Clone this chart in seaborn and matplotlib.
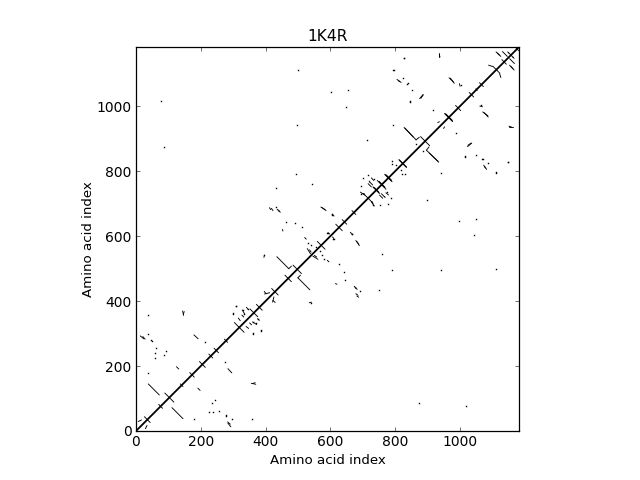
import numpy as np
import pandas as pd
import matplotlib
matplotlib.use("Agg")
import matplotlib.pyplot as plt
import seaborn as sns

title = "1K4R"
axis_label = "Amino acid index"
sequence_length = 1183
tick_values = [0, 200, 400, 600, 800, 1000]

# residue centres where a short anti-parallel contact crosses the diagonal
cross_center = [35, 76, 103, 141, 173, 205, 231, 248, 278, 319, 364, 381, 429, 498,
                572, 627, 644, 673, 717, 743, 760, 781, 824, 893, 967, 995, 1036,
                1067, 1113, 1137, 1158, 1177]
cross_half = [9, 6, 14, 4, 7, 9, 6, 7, 5, 15, 12, 9, 10, 13,
              12, 10, 7, 6, 13, 7, 9, 8, 10, 14, 10, 8, 7,
              6, 11, 7, 7, 5]

# contact strands, (residue a0, residue b0, residue a1, residue b1); the map is symmetric
strands = [
    (38, 145, 72, 111), (7, 29, 17, 34), (21, 291, 28, 283), (146, 360, 149, 368),
    (179, 296, 192, 284), (125, 198, 132, 191), (147, 356, 144, 370), (13, 293, 24, 284),
    (328, 373, 336, 360), (341, 381, 346, 375), (316, 348, 322, 340), (327, 357, 333, 351),
    (435, 537, 472, 500), (472, 500, 480, 508), (469, 471, 480, 460), (395, 535, 397, 542),
    (397, 422, 413, 426), (423, 402, 430, 396), (418, 686, 423, 679), (439, 679, 446, 674),
    (452, 621, 454, 616), (575, 688, 587, 679), (521, 596, 526, 591), (536, 558, 541, 551),
    (529, 562, 539, 546), (593, 611, 598, 607), (584, 682, 571, 690), (443, 678, 436, 683),
    (412, 688, 416, 682), (606, 668, 612, 662), (700, 732, 706, 730), (721, 768, 731, 758),
    (693, 736, 706, 727), (727, 752, 717, 762), (734, 772, 727, 780), (722, 767, 720, 770),
    (831, 933, 865, 897), (865, 897, 875, 905), (828, 935, 856, 906), (810, 1079, 819, 1074),
    (880, 1025, 887, 1035), (971, 1087, 983, 1071), (932, 950, 937, 953), (1001, 1062, 999, 1070),
    (967, 1088, 981, 1075), (936, 1152, 936, 1163), (876, 1024, 887, 1037), (806, 1083, 815, 1077),
    (1116, 1164, 1127, 1154), (1132, 1169, 1147, 1154), (1148, 1168, 1152, 1164),
    (1112, 1168, 1123, 1158), (1089, 1127, 1101, 1123), (937, 1159, 939, 1152),
    (955, 977, 978, 953), (733, 751, 752, 732), (750, 768, 772, 745), (770, 789, 791, 768),
    (813, 835, 836, 812), (1050, 1053, 1054, 1050),
]

# isolated contacts, (residue a, residue b)
dots = [
    (38, 298), (48, 277), (62, 257), (60, 239), (59, 226), (87, 234), (94, 245), (38, 357),
    (38, 178), (213, 275), (300, 360), (310, 385), (362, 301),
    (385, 309), (46, 279), (361, 335),
    (372, 332), (377, 345), (395, 541), (431, 691), (464, 645), (490, 642), (433, 750),
    (495, 792), (513, 628), (531, 580), (541, 573), (555, 568), (544, 761), (592, 611),
    (606, 666), (610, 591), (668, 606), (712, 898),
    (648, 998), (496, 943), (499, 1111), (794, 943), (794, 1111), (695, 755),
    (700, 779), (718, 789), (736, 776), (696, 731),
    (792, 822), (792, 832), (803, 820), (864, 885),
    (603, 1044), (654, 1051), (798, 1112), (829, 1148), (839, 1071), (851, 1049),
    (846, 1015), (1003, 1066), (918, 989), (845, 1017),
    (838, 1070), (825, 1086), (828, 1149), (77, 1018), (86, 874),
]

strand_rows = []
for k, (a0, b0, a1, b1) in enumerate(strands):
    strand_rows += [(f"s{k}", a0, b0), (f"s{k}", a1, b1),
                    (f"m{k}", b0, a0), (f"m{k}", b1, a1)]
for k, (c, h) in enumerate(zip(cross_center, cross_half)):
    strand_rows += [(f"c{k}", c - h, c + h), (f"c{k}", c + h, c - h)]
strand_df = pd.DataFrame(strand_rows, columns=["id", "x", "y"])
diag_df = pd.DataFrame({"x": [0, sequence_length], "y": [0, sequence_length]})
dot_df = pd.DataFrame(dots + [(b, a) for a, b in dots], columns=["x", "y"])

sns.set_style("white", {
    "axes.edgecolor": "black", "xtick.bottom": True, "ytick.left": True,
    "xtick.top": True, "ytick.right": True, "xtick.direction": "in",
    "ytick.direction": "in", "font.family": ["DejaVu Sans"],
    "text.color": "black", "axes.labelcolor": "black",
    "xtick.color": "black", "ytick.color": "black",
})
plt.rcParams.update({"xtick.major.size": 3.2, "ytick.major.size": 3.2,
                     "xtick.major.width": 0.4, "ytick.major.width": 0.4})

fig = plt.figure(figsize=(6.4, 4.8), dpi=100)
ax = fig.add_axes([136 / 640, 49 / 480, 383 / 640, 384 / 480])

sns.lineplot(data=diag_df, x="x", y="y", color="black", linewidth=1.3,
             estimator=None, sort=False, ax=ax)
sns.lineplot(data=strand_df, x="x", y="y", units="id", color="black", linewidth=0.65,
             estimator=None, sort=False, ax=ax)
sns.scatterplot(data=dot_df, x="x", y="y", color="black", marker="s", s=1.0,
                linewidth=0, ax=ax)
ax.collections[-1].set_snap(False)

ax.set_xlim(0, sequence_length)
ax.set_ylim(0, sequence_length)
ax.set_xticks(tick_values)
ax.set_yticks(tick_values)
ax.tick_params(labelsize=10, pad=3.2)
ax.set_xlabel(axis_label, fontsize=9.6, labelpad=3)
ax.set_ylabel(axis_label, fontsize=9.6, labelpad=1)
ax.set_title(title, fontsize=11.2, pad=4.5)
for s in ax.spines.values():
    s.set_linewidth(0.9)
    s.set_color("black")

fig.savefig("out.png", dpi=100)
